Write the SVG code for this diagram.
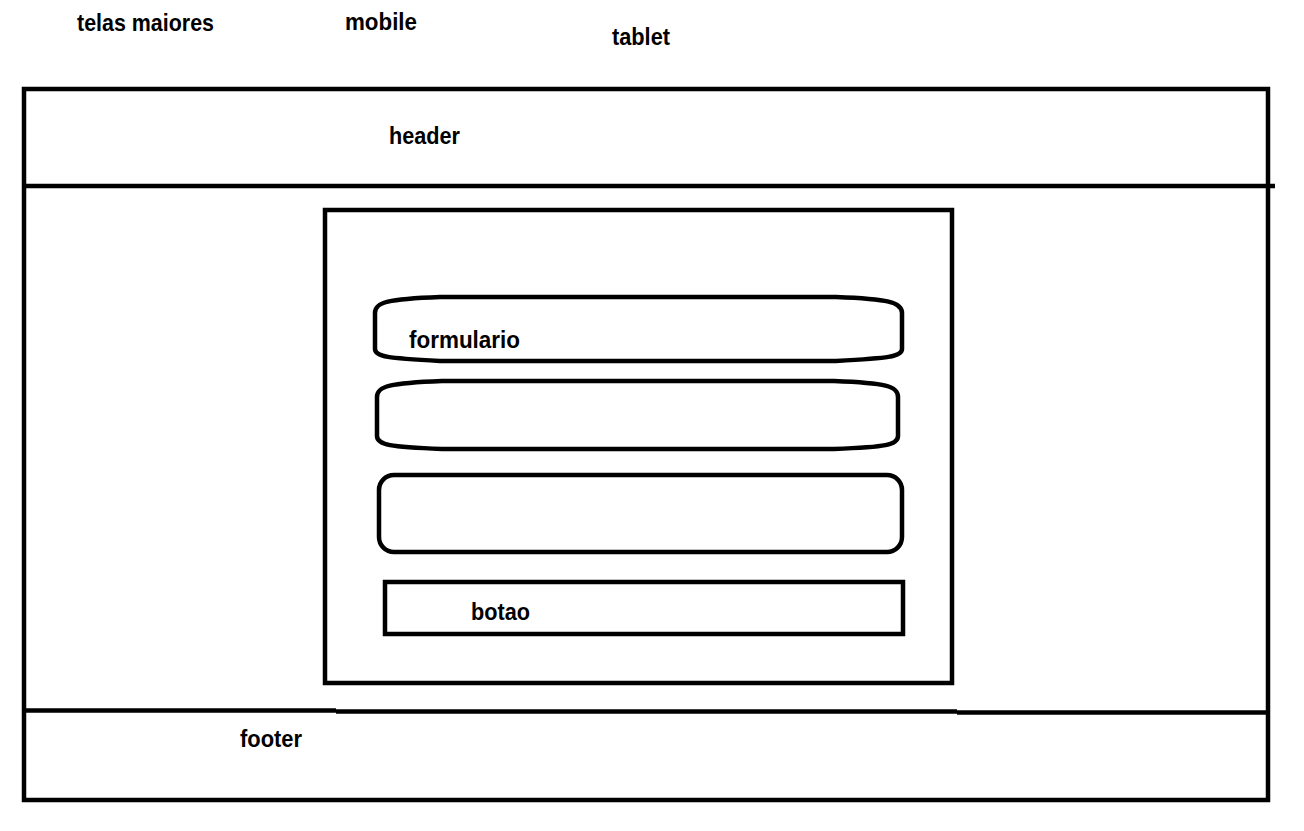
<svg xmlns="http://www.w3.org/2000/svg" width="1304" height="831" viewBox="0 0 1304 831">
<style>
.s{fill:none;stroke:#000;stroke-width:4.5}
.t{font-family:"Liberation Sans",Arial,sans-serif;font-weight:bold;font-size:24px;fill:#000}
</style>
<rect width="1304" height="831" fill="#fff"/>
<g id="labels">
<text class="t" x="77" y="31" textLength="137" lengthAdjust="spacingAndGlyphs">telas maiores</text>
<text class="t" x="345" y="30" textLength="72" lengthAdjust="spacingAndGlyphs">mobile</text>
<text class="t" x="612" y="45" textLength="58" lengthAdjust="spacingAndGlyphs">tablet</text>
</g>
<g id="page">
<rect class="s" x="24" y="89" width="1244" height="711"/>
</g>
<g id="header">
<line class="s" x1="24" y1="186" x2="1275" y2="186"/>
<text class="t" x="389" y="144" textLength="71" lengthAdjust="spacingAndGlyphs">header</text>
</g>
<g id="footer">
<path class="s" d="M24,710.5 L336,710.5 M336,711.5 L957,711.5 M957,712.5 L1268,712.5"/>
<text class="t" x="240" y="747" textLength="62" lengthAdjust="spacingAndGlyphs">footer</text>
</g>
<g id="container">
<rect class="s" x="325" y="210" width="627" height="473"/>
</g>
<g id="formulario">
<path class="s" d="M375,313 C375,302 388,299 440,297 L836,297 C888,299 902,302 902,313 L902,349 C902,357 888,358 836,361 L440,361 C388,358 375,357 375,349 Z"/>
<text class="t" x="409" y="348" textLength="111" lengthAdjust="spacingAndGlyphs">formulario</text>
</g>
<g id="campo2">
<path class="s" d="M377,397 C377,386 390,383 442,381 L834,381 C886,383 898,386 898,397 L898,436 C898,445 886,447 834,449 L442,449 C390,447 377,445 377,436 Z"/>
</g>
<g id="campo3">
<rect class="s" x="379" y="475" width="523" height="77" rx="15" ry="15"/>
</g>
<g id="botao">
<rect class="s" x="385" y="582" width="518" height="52"/>
<text class="t" x="471" y="620" textLength="59" lengthAdjust="spacingAndGlyphs">botao</text>
</g>
<g id="connectors"></g>
</svg>
